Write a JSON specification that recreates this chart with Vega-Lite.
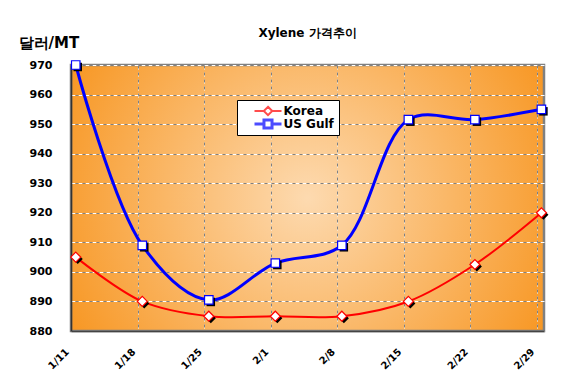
{
  "$schema": "https://vega.github.io/schema/vega-lite/v6.json",
  "autosize": {"type": "none"},
  "padding": {"left": 71, "top": 65, "right": 41, "bottom": 52},
  "width": 473,
  "height": 266,
  "background": "white",
  "title": {
    "text": "Xylene 가격추이",
    "font": "DejaVu Sans",
    "fontSize": 12,
    "fontWeight": "bold",
    "color": "black",
    "anchor": "middle",
    "baseline": "alphabetic",
    "offset": -14
  },
  "view": {
    "fill": {
      "gradient": "radial",
      "x1": 0.5, "y1": 0.5, "r1": 0,
      "x2": 0.5, "y2": 0.5, "r2": 0.6,
      "stops": [
        {"offset": 0, "color": "#FDDAB0"},
        {"offset": 1, "color": "#F7941D"}
      ]
    },
    "stroke": "#808080",
    "strokeWidth": 2.5
  },
  "data": {
    "values": [
      {"date": "2008-01-11T12:00:00", "series": "Korea", "price": 905},
      {"date": "2008-01-18T12:00:00", "series": "Korea", "price": 890},
      {"date": "2008-01-25T12:00:00", "series": "Korea", "price": 885},
      {"date": "2008-02-01T12:00:00", "series": "Korea", "price": 885},
      {"date": "2008-02-08T12:00:00", "series": "Korea", "price": 885},
      {"date": "2008-02-15T12:00:00", "series": "Korea", "price": 890},
      {"date": "2008-02-22T12:00:00", "series": "Korea", "price": 902.5},
      {"date": "2008-02-29T12:00:00", "series": "Korea", "price": 920},
      {"date": "2008-01-11T12:00:00", "series": "US Gulf", "price": 970},
      {"date": "2008-01-18T12:00:00", "series": "US Gulf", "price": 909},
      {"date": "2008-01-25T12:00:00", "series": "US Gulf", "price": 890.5},
      {"date": "2008-02-01T12:00:00", "series": "US Gulf", "price": 903},
      {"date": "2008-02-08T12:00:00", "series": "US Gulf", "price": 909},
      {"date": "2008-02-15T12:00:00", "series": "US Gulf", "price": 951.5},
      {"date": "2008-02-22T12:00:00", "series": "US Gulf", "price": 951.5},
      {"date": "2008-02-29T12:00:00", "series": "US Gulf", "price": 955}
    ]
  },
  "resolve": {"axis": {"x": "independent", "y": "independent"}},
  "layer": [
    {
      "mark": {"type": "line", "interpolate": "catmull-rom"},
      "encoding": {
        "x": {
          "field": "date", "type": "temporal",
          "scale": {"type": "time", "nice": false, "domain": [{"year": 2008, "month": 1, "date": 11}, {"year": 2008, "month": 2, "date": 29, "hours": 18, "minutes": 30}]},
          "axis": {
            "title": null,
            "values": [
              {"year": 2008, "month": 1, "date": 11},
              {"year": 2008, "month": 1, "date": 18},
              {"year": 2008, "month": 1, "date": 25},
              {"year": 2008, "month": 2, "date": 1},
              {"year": 2008, "month": 2, "date": 8},
              {"year": 2008, "month": 2, "date": 15},
              {"year": 2008, "month": 2, "date": 22},
              {"year": 2008, "month": 2, "date": 29}
            ],
            "format": "%-m/%-d",
            "labelAngle": -45,
            "labelAlign": "right",
            "labelBaseline": "middle",
            "labelPadding": 19,
            "labelOffset": -4,
            "labelFont": "DejaVu Sans",
            "labelFontSize": 10,
            "labelFontWeight": "bold",
            "labelColor": "black",
            "labelOverlap": false,
            "labelFlush": false,
            "ticks": false,
            "domain": true,
            "domainColor": "#444444",
            "domainWidth": 1.5,
            "grid": true,
            "gridColor": "#FFFFFF",
            "gridDash": [4, 3],
            "gridWidth": 1,
            "gridOpacity": 1
          }
        },
        "y": {
          "field": "price", "type": "quantitative",
          "scale": {"domain": [880, 970], "nice": false, "zero": false},
          "axis": {
            "title": "달러/MT",
            "titleAngle": 0,
            "titleX": -53,
            "titleY": -23,
            "titleAlign": "left",
            "titleBaseline": "middle",
            "titleFont": "DejaVu Sans",
            "titleFontSize": 15,
            "titleFontWeight": "bold",
            "titleColor": "black",
            "values": [880, 890, 900, 910, 920, 930, 940, 950, 960, 970],
            "labelFont": "DejaVu Sans",
            "labelFontSize": 11,
            "labelFontWeight": "bold",
            "labelColor": "black",
            "labelPadding": 19,
            "labelFlush": false,
            "labelOverlap": false,
            "ticks": false,
            "domain": true,
            "domainColor": "#333333",
            "domainWidth": 1.5,
            "grid": true,
            "gridColor": "#FFFFFF",
            "gridDash": [4, 3],
            "gridWidth": 1,
            "gridOpacity": 1
          }
        },
        "detail": {"field": "series"},
        "stroke": {
          "field": "series", "type": "nominal",
          "scale": {"domain": ["Korea", "US Gulf"], "range": ["#FF0000", "#0000FF"]},
          "legend": {
            "title": null,
            "orient": "none",
            "legendX": 166,
            "legendY": 35,
            "fillColor": "white",
            "strokeColor": "black",
            "padding": 5,
            "rowPadding": 1,
            "clipHeight": 12,
            "symbolSize": 144,
            "symbolOffset": 18.5,
            "symbolStrokeWidth": 2,
            "symbolFillColor": "white",
            "labelOffset": 8,
            "labelFont": "DejaVu Sans",
            "labelFontSize": 12,
            "labelFontWeight": "bold",
            "labelColor": "black"
          }
        },
        "strokeWidth": {
          "field": "series", "type": "nominal",
          "scale": {"domain": ["Korea", "US Gulf"], "range": [2, 3]},
          "legend": null
        }
      }
    },
    {
      "mark": {
        "type": "point", "filled": true, "fill": "black", "opacity": 1, "xOffset": 2, "yOffset": 2,
        "shape": {"expr": "datum.series === 'Korea' ? 'diamond' : 'square'"},
        "size": {"expr": "datum.series === 'Korea' ? 100 : 72"}
      },
      "encoding": {
        "x": {
          "field": "date", "type": "temporal",
          "axis": {
            "orient": "top",
            "title": null,
            "values": [
              {"year": 2008, "month": 1, "date": 11},
              {"year": 2008, "month": 1, "date": 18},
              {"year": 2008, "month": 1, "date": 25},
              {"year": 2008, "month": 2, "date": 1},
              {"year": 2008, "month": 2, "date": 8},
              {"year": 2008, "month": 2, "date": 15},
              {"year": 2008, "month": 2, "date": 22},
              {"year": 2008, "month": 2, "date": 29}
            ],
            "labels": false,
            "ticks": false,
            "domain": false,
            "grid": true,
            "gridColor": "#808080",
            "gridDash": [3, 4],
            "gridDashOffset": 3,
            "gridWidth": 1,
            "gridOpacity": 1
          }
        },
        "y": {
          "field": "price", "type": "quantitative",
          "axis": {
            "orient": "right",
            "title": null,
            "values": [880, 890, 900, 910, 920, 930, 940, 950, 960, 970],
            "labels": false,
            "ticks": false,
            "domain": false,
            "grid": true,
            "gridColor": "#808080",
            "gridDash": [3, 4],
            "gridDashOffset": 3,
            "gridWidth": 1,
            "gridOpacity": 1
          }
        }
      }
    },
    {
      "mark": {
        "type": "point", "filled": false, "fill": "white", "fillOpacity": 1, "opacity": 1, "strokeWidth": 1.2,
        "shape": {"expr": "datum.series === 'Korea' ? 'diamond' : 'square'"},
        "size": {"expr": "datum.series === 'Korea' ? 100 : 72"},
        "stroke": {"expr": "datum.series === 'Korea' ? '#FF0000' : '#0000FF'"}
      },
      "encoding": {
        "x": {"field": "date", "type": "temporal", "axis": null},
        "y": {"field": "price", "type": "quantitative", "axis": null}
      }
    },
    {
      "transform": [{"filter": "false"}],
      "mark": {"type": "point", "filled": false},
      "encoding": {
        "x": {"field": "date", "type": "temporal", "axis": null},
        "y": {"field": "price", "type": "quantitative", "axis": null},
        "shape": {
          "field": "series", "type": "nominal",
          "scale": {"domain": ["Korea", "US Gulf"], "range": ["M-2.25,0H-0.7M0.7,0H2.25M0,-0.7L0.7,0L0,0.7L-0.7,0ZM12.25,0", "M-2.25,0H-0.67M0.67,0H2.25M-0.67,-0.67H0.67V0.67H-0.67ZM12.25,0"]},
          "legend": {
            "title": null,
            "orient": "none",
            "legendX": 166,
            "legendY": 35,
            "fillColor": "white",
            "strokeColor": "black",
            "padding": 5,
            "rowPadding": 1,
            "clipHeight": 12,
            "symbolSize": 144,
            "symbolOffset": 18.5,
            "symbolStrokeWidth": 2,
            "symbolFillColor": "white",
            "labelOffset": 8,
            "labelFont": "DejaVu Sans",
            "labelFontSize": 12,
            "labelFontWeight": "bold",
            "labelColor": "black"
          }
        },
        "stroke": {
          "field": "series", "type": "nominal",
          "scale": {"domain": ["Korea", "US Gulf"], "range": ["#FF0000", "#0000FF"]}
        }
      }
    }
  ]
}
